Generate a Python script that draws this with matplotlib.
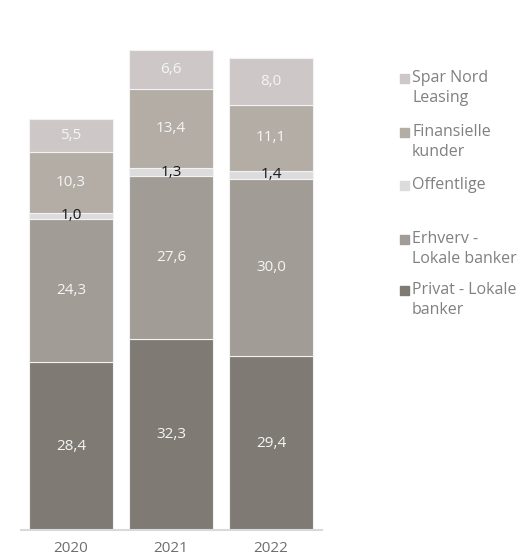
import numpy as np
import matplotlib.pyplot as plt
from matplotlib.patches import Rectangle

plt.rcParams['font.family'] = ['Open Sans', 'DejaVu Sans']

years = ['2020', '2021', '2022']
privat = [28.4, 32.3, 29.4]
erhverv = [24.3, 27.6, 30.0]
offentlige = [1.0, 1.3, 1.4]
finansielle = [10.3, 13.4, 11.1]
leasing = [5.5, 6.6, 8.0]

series = [
    (privat, 'Privat - Lokale\nbanker', '#7f7b74', '#f5f5f5'),
    (erhverv, 'Erhverv -\nLokale banker', '#a29c96', '#f5f5f5'),
    (offentlige, 'Offentlige', '#dcdcdc', '#1a1a1a'),
    (finansielle, 'Finansielle\nkunder', '#b3ada6', '#f5f5f5'),
    (leasing, 'Spar Nord\nLeasing', '#cdc8c7', '#f5f5f5'),
]

fig = plt.figure(figsize=(5.22, 5.58), dpi=100)
ax = fig.add_axes([21/522, 1 - 530/558, 301/522, 490/558])

x = np.arange(len(years))
bottom = np.zeros(len(years))
for vals, name, col, tcol in series:
    vals = np.array(vals)
    ax.bar(x, vals, 0.84, bottom=bottom, color=col, edgecolor='#f2f2f2', linewidth=0.8)
    for xi, b, v in zip(x, bottom, vals):
        ax.text(xi, b + v / 2, f'{v:.1f}'.replace('.', ','), ha='center', va='center',
                color=tcol, fontsize=11)
    bottom += vals

ax.set_xlim(-0.5, 2.51)
ax.set_ylim(0, 490 / 5.91)
for s in ['top', 'right', 'left']:
    ax.spines[s].set_visible(False)
ax.spines['bottom'].set_color('#d9d9d9')
ax.spines['bottom'].set_linewidth(1.5)
ax.set_yticks([])
ax.set_xticks(x)
ax.set_xticklabels(years, color='#6e6e6e', fontsize=11)
ax.tick_params(axis='x', length=0, pad=8)

# legend drawn by hand, top entry first
legend_y = [78, 132, 185, 239, 290]
for (vals, name, col, tcol), ly in zip(series[::-1], legend_y):
    fig.patches.append(Rectangle((400/522, 1 - (ly + 4.5)/558), 9/522, 9/558,
                                 transform=fig.transFigure, color=col))
    fig.text(412/522, 1 - (ly - 8)/558, name, ha='left', va='top',
             color='#808080', fontsize=11.5, linespacing=1.3)

fig.text(20/522, 1 + 5/558, 'Mia. kr.', ha='left', va='center', color='#555555', fontsize=11)

fig.savefig('out.png', dpi=100)
